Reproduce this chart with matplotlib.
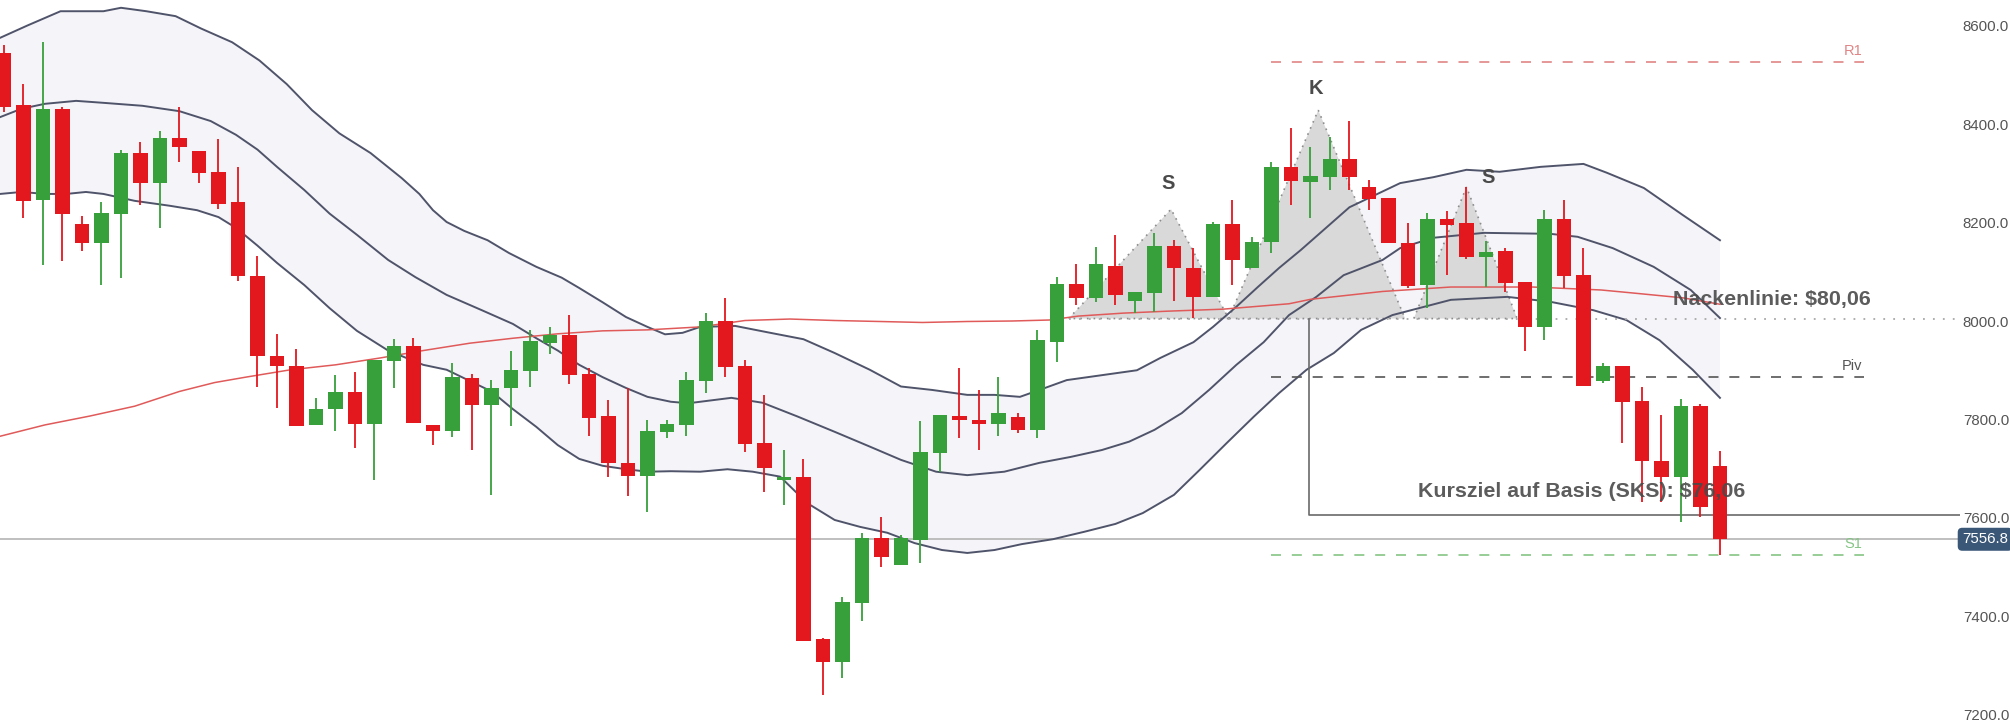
import matplotlib.pyplot as plt

plt.rcParams['font.family'] = ['Liberation Sans', 'DejaVu Sans']

# daily candles
opens = [8544, 8439, 8246, 8431, 8197, 8158, 8218, 8341, 8280, 8372,
         8345, 8303, 8242, 8091, 7929, 7908, 7789, 7821, 7856, 7791,
         7919, 7949, 7788, 7777, 7884, 7829, 7863, 7898, 7955, 7972,
         7892, 7808, 7712, 7685, 7775, 7789, 7879, 7999, 7909, 7752,
         7678, 7683, 7354, 7308, 7428, 7559, 7505, 7555, 7732, 7808,
         7799, 7791, 7806, 7779, 7957, 8075, 8047, 8112, 8041, 8057,
         8152, 8108, 8049, 8197, 8108, 8160, 8313, 8282, 8292, 8329,
         8272, 8250, 8158, 8073, 8207, 8199, 8130, 8142, 8079, 7988,
         8207, 8093, 7878, 7909, 7838, 7716, 7683, 7827, 7706]
highs = [8561, 8482, 8567, 8435, 8213, 8242, 8348, 8363, 8386, 8435,
         8345, 8370, 8313, 8133, 7973, 7943, 7844, 7890, 7896, 7921,
         7963, 7965, 7788, 7915, 7893, 7880, 7940, 7982, 7988, 8012,
         7905, 7840, 7864, 7799, 7799, 7896, 8016, 8047, 7921, 7850,
         7738, 7720, 7356, 7440, 7570, 7603, 7565, 7796, 7809, 7905,
         7860, 7887, 7813, 7982, 8089, 8116, 8150, 8175, 8059, 8179,
         8164, 8148, 8201, 8246, 8171, 8323, 8392, 8353, 8374, 8406,
         8286, 8250, 8199, 8219, 8223, 8272, 8162, 8148, 8079, 8225,
         8246, 8148, 7915, 7909, 7866, 7809, 7842, 7831, 7736]
lows = [8424, 8209, 8114, 8121, 8142, 8073, 8088, 8236, 8189, 8323,
        8280, 8227, 8081, 7866, 7824, 7787, 7789, 7777, 7742, 7677,
        7864, 7793, 7748, 7765, 7738, 7647, 7787, 7866, 7933, 7872,
        7767, 7683, 7645, 7612, 7762, 7767, 7854, 7887, 7735, 7653,
        7626, 7350, 7241, 7275, 7391, 7501, 7505, 7509, 7694, 7762,
        7738, 7766, 7773, 7762, 7917, 8032, 8039, 8032, 8016, 8018,
        8041, 8006, 8049, 8073, 8108, 8138, 8236, 8209, 8266, 8266,
        8225, 8158, 8067, 8026, 8093, 8126, 8069, 8059, 7939, 7961,
        8067, 7868, 7874, 7752, 7632, 7632, 7592, 7602, 7525]
closes = [8435, 8244, 8431, 8218, 8158, 8219, 8341, 8280, 8372, 8354,
          8301, 8238, 8091, 7929, 7908, 7787, 7822, 7856, 7791, 7921,
          7949, 7793, 7777, 7887, 7829, 7864, 7900, 7959, 7972, 7890,
          7803, 7712, 7685, 7777, 7791, 7880, 7999, 7907, 7750, 7702,
          7684, 7350, 7308, 7430, 7559, 7521, 7559, 7735, 7809, 7798,
          7791, 7814, 7779, 7961, 8075, 8047, 8116, 8053, 8059, 8152,
          8108, 8049, 8197, 8124, 8160, 8313, 8284, 8294, 8329, 8292,
          8248, 8158, 8071, 8207, 8195, 8130, 8140, 8077, 7988, 8207,
          8091, 7868, 7909, 7836, 7716, 7683, 7827, 7622, 7556.8]

# bollinger bands (candle index, price)
upper_x = [-0.2, 1.2, 2.9, 5.1, 6.0, 7.3, 8.8, 10.1, 11.7, 13.1, 14.5, 15.8,
           17.2, 18.8, 20.4, 21.3, 22.0, 22.7, 23.6, 24.8, 25.9, 27.3, 28.6,
           29.5, 30.7, 31.9, 33.0, 33.9, 34.8, 35.7, 37.5, 39.3, 41.0, 42.6,
           44.4, 46.0, 47.6, 49.4, 50.8, 52.1, 53.1, 54.5, 56.3, 58.1, 59.3,
           61.0, 62.0, 63.2, 64.3, 65.4, 66.5, 69.0, 71.6, 73.3, 75.0, 76.7,
           78.8, 81.0, 82.2, 84.1, 86.1, 88.0]
upper_y = [8575, 8600, 8629, 8629, 8636, 8629, 8619, 8594, 8566, 8529, 8481,
           8428, 8381, 8341, 8290, 8258, 8225, 8201, 8183, 8164, 8138, 8110,
           8088, 8067, 8038, 8008, 7988, 7973, 7976, 7988, 7990, 7976, 7963,
           7935, 7901, 7867, 7860, 7850, 7850, 7846, 7860, 7880, 7890, 7900,
           7925, 7957, 7988, 8029, 8069, 8108, 8144, 8231, 8280, 8292, 8307,
           8303, 8313, 8319, 8301, 8270, 8215, 8164]
middle_x = [-0.2, 0.9, 2.1, 3.7, 5.1, 7.1, 9.0, 10.6, 11.9, 13.0, 14.0, 15.4,
            16.7, 18.1, 19.7, 21.1, 22.7, 24.5, 26.1, 27.3, 28.4, 29.5, 30.7,
            31.9, 33.0, 34.2, 35.1, 35.7, 37.3, 38.9, 40.7, 42.6, 44.4, 46.0,
            47.8, 49.4, 51.3, 53.1, 54.7, 56.3, 57.7, 59.0, 60.4, 61.8, 63.2,
            64.6, 65.9, 67.3, 68.7, 70.7, 71.6, 73.3, 75.9, 79.3, 80.7, 82.5,
            84.6, 86.5, 88.0]
middle_y = [8414, 8431, 8441, 8447, 8443, 8437, 8426, 8406, 8378, 8348, 8313,
            8266, 8218, 8175, 8124, 8089, 8053, 8022, 7994, 7965, 7940, 7911,
            7886, 7864, 7846, 7836, 7833, 7836, 7844, 7834, 7806, 7775, 7745,
            7718, 7694, 7687, 7694, 7712, 7724, 7738, 7755, 7779, 7813, 7860,
            7911, 7957, 8012, 8049, 8093, 8124, 8148, 8169, 8179, 8177, 8171,
            8148, 8110, 8063, 8006]
lower_x = [-0.2, 0.9, 2.1, 3.2, 4.2, 5.1, 6.7, 8.5, 9.9, 11.0, 11.9, 13.0,
           14.0, 15.4, 16.7, 18.1, 19.7, 21.5, 22.7, 23.9, 25.0, 26.1, 27.3,
           28.4, 29.5, 30.7, 31.9, 33.0, 34.2, 35.7, 37.1, 38.4, 39.8, 41.2,
           42.6, 43.9, 45.3, 46.7, 48.1, 49.4, 50.8, 52.2, 53.8, 55.4, 57.0,
           58.4, 60.0, 61.3, 62.7, 64.1, 65.4, 66.8, 68.2, 69.6, 71.2, 74.2,
           77.1, 79.3, 81.5, 83.2, 84.9, 86.6, 88.0]
lower_y = [8258, 8262, 8258, 8258, 8262, 8258, 8244, 8234, 8225, 8211, 8189,
           8153, 8118, 8073, 8026, 7980, 7940, 7911, 7901, 7878, 7857, 7821,
           7785, 7748, 7720, 7706, 7699, 7694, 7695, 7694, 7699, 7694, 7684,
           7630, 7596, 7582, 7570, 7549, 7535, 7529, 7535, 7547, 7557, 7572,
           7588, 7610, 7647, 7697, 7752, 7806, 7854, 7901, 7935, 7982, 8012,
           8043, 8049, 8039, 8022, 8002, 7961, 7901, 7844]

# red moving average
ma_x = [-0.2, 2.1, 4.4, 6.7, 9.0, 10.8, 12.4, 14.7, 17.0, 19.3, 21.5, 23.9,
        26.1, 28.4, 30.7, 33.0, 35.7, 38.0, 40.3, 42.6, 44.9, 47.1, 49.4,
        51.7, 53.6, 55.1, 57.4, 59.7, 62.5, 65.9, 67.0, 70.7, 74.2, 78.4,
        81.9, 83.5, 86.1, 88.0]
ma_y = [7766, 7789, 7807, 7827, 7857, 7875, 7886, 7901, 7911, 7925, 7940,
        7955, 7965, 7974, 7980, 7982, 7988, 8001, 8004, 8001, 7999, 7997,
        7999, 8000, 8002, 8010, 8016, 8020, 8024, 8035, 8044, 8060, 8069,
        8069, 8063, 8057, 8047, 8034]

# head and shoulders
left_shoulder_x = [54.6, 59.85, 62.8]
left_shoulder_y = [8005, 8227, 8005]
head_x = [62.8, 67.4, 71.85]
head_y = [8005, 8428, 8005]
right_shoulder_x = [72.3, 75.0, 77.6]
right_shoulder_y = [8005, 8272, 8005]
pattern_labels = ['S', 'K', 'S']
pattern_label_x = [59.7, 67.3, 76.1]
pattern_label_y = [8279, 8473, 8292]

neckline = 8005
target = 7606
target_x = 66.9
last_price = 7556.8
levels = {'R1': 8526, 'Piv': 7886, 'S1': 7525}
level_colors = {'R1': '#e08585', 'Piv': '#555555', 'S1': '#85c585'}
level_start, level_end = 65.0, 95.4
yticks = [7200, 7400, 7600, 7800, 8000, 8200, 8400, 8600]

UP = '#38a03a'
DOWN = '#e3171e'
BAND = '#50546a'
TEXT = '#4a4a4a'

fig = plt.figure(figsize=(20.10, 7.21), dpi=100)
ax = fig.add_axes([0, 0, 1960 / 2010, 1])
ax.set_xlim(-0.205, 100.31)
ax.set_ylim(7187.8, 8651.8)
for s in ax.spines.values():
    s.set_visible(False)
ax.set_xticks([])

# band fill (upper edge, then lower edge backwards) + lines
ax.fill(upper_x + lower_x[::-1], upper_y + lower_y[::-1],
        color='#f4f4f9', lw=0, zorder=1)
ax.plot(upper_x, upper_y, color=BAND, lw=1.4, zorder=3)
ax.plot(middle_x, middle_y, color=BAND, lw=1.4, zorder=3)
ax.plot(lower_x, lower_y, color=BAND, lw=1.4, zorder=3)
ax.plot(ma_x, ma_y, color='#e05a5a', lw=1.1, zorder=3)

# head & shoulders triangles
for tx, ty in [(left_shoulder_x, left_shoulder_y), (head_x, head_y),
               (right_shoulder_x, right_shoulder_y)]:
    ax.fill(tx, ty, facecolor='#d9d9d9', edgecolor='#8c8c8c', lw=1.2,
            linestyle=(0, (1, 3)), zorder=2)
for lab, lx, ly in zip(pattern_labels, pattern_label_x, pattern_label_y):
    ax.text(lx, ly, lab, ha='center', va='center', fontsize=14.5,
            fontweight='bold', color=TEXT, zorder=6)

# neckline and target
ax.plot([left_shoulder_x[0], 100.31], [neckline, neckline], color='#a8a8a8',
        lw=1.3, linestyle=(0, (1, 4.5)), zorder=3)
ax.plot([target_x, target_x, 100.31], [neckline, target, target],
        color='#6a6a6a', lw=1.2, zorder=3)
ax.axhline(last_price, color='#b4b4b4', lw=1.2, zorder=2.5)

# pivot levels
for name, val in levels.items():
    ax.plot([level_start, level_end], [val, val], color=level_colors[name],
            lw=1.2, linestyle=(0, (6, 6.5)), zorder=3)
    ax.text(level_end - 0.1, val + 8, name, ha='right', va='bottom',
            fontsize=10.5, color=level_colors[name], zorder=6)

# candles
idx = list(range(len(opens)))
colors = [UP if c >= o else DOWN for o, c in zip(opens, closes)]
bottoms = [min(o, c) for o, c in zip(opens, closes)]
heights = [max(abs(c - o), 5) for o, c in zip(opens, closes)]
ax.vlines(idx, lows, highs, colors=colors, lw=1.3, zorder=4)
ax.bar(idx, heights, bottom=bottoms, width=0.74, color=colors, lw=0, zorder=5)

# annotations
ax.text(85.6, 8032, 'Nackenlinie: $80,06', fontsize=15.4, fontweight='bold',
        color=TEXT, alpha=0.9, va='baseline', ha='left', zorder=6)
ax.text(72.5, 7643, 'Kursziel auf Basis (SKS): $76,06', fontsize=15.4,
        fontweight='bold', color=TEXT, alpha=0.9, va='baseline', ha='left',
        zorder=6)

# price axis on the right
ax.yaxis.tick_right()
ax.set_yticks(yticks)
ax.set_yticklabels([f'{v:.1f}' for v in yticks])
ax.tick_params(axis='y', length=0, pad=2, labelsize=10.8, labelcolor='#555555')
ax.annotate(f'{last_price:.1f}', xy=(1, last_price),
            xycoords=('axes fraction', 'data'), xytext=(1.6, 0),
            textcoords='offset points', ha='left', va='center',
            fontsize=10.8, color='white', annotation_clip=False,
            bbox=dict(boxstyle='round,pad=0.3,rounding_size=0.3',
                      fc='#3b5778', ec='none'))

fig.savefig('out.png', dpi=100, facecolor='white')
